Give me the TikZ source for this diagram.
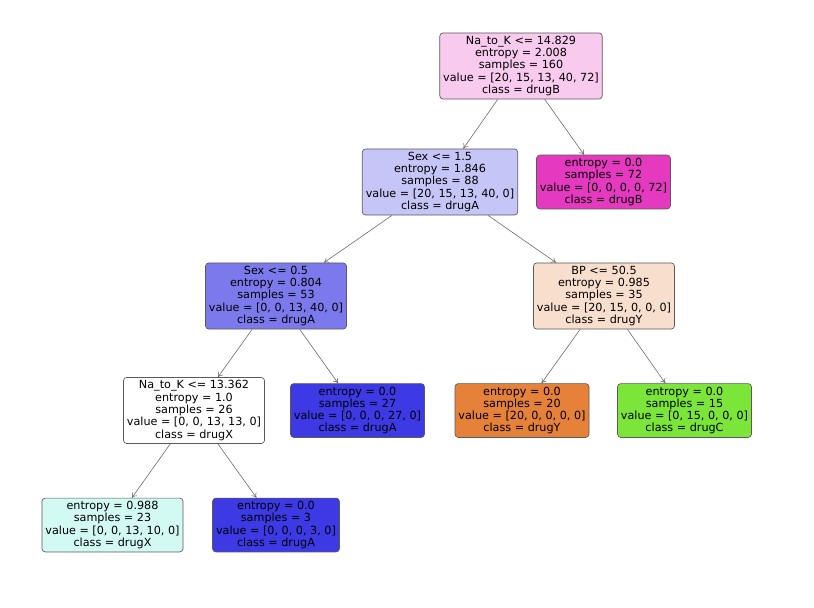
\documentclass[tikz,border=0pt]{standalone}
\usepackage{fontspec}
\setmainfont{DejaVu Sans}
\usetikzlibrary{calc}
\usetikzlibrary{arrows.meta}

\definecolor{rootcol}{HTML}{F8CAEE}
\definecolor{sexcol}{HTML}{C6C5F7}
\definecolor{sexbcol}{HTML}{7C79ED}
\definecolor{bpcol}{HTML}{F8DFCD}
\definecolor{xlcol}{HTML}{D2F9F2}
\definecolor{drugAcol}{HTML}{3C39E5}
\definecolor{drugBcol}{HTML}{E539C0}
\definecolor{drugCcol}{HTML}{7BE539}
\definecolor{drugYcol}{HTML}{E58139}
\definecolor{edgecol}{HTML}{5A5A5A}

\tikzset{
  treebox/.style={draw=edgecol, line width=0.5pt, rounded corners=2.5pt, align=center,
    inner xsep=2.6pt, inner ysep=2.4pt, font=\fontsize{8.4}{9.2}\selectfont},
  split/.style={-{To[length=3.5pt,width=4.5pt]}, draw=edgecol!90, line width=0.45pt}
}

\begin{document}
\begin{tikzpicture}[x=0.75pt,y=-0.75pt]
  \useasboundingbox (0,0) rectangle (814,607);

  \node[treebox, fill=rootcol] (root) at (521,66) {Na\_to\_K <= 14.829\\entropy = 2.008\\samples = 160\\value = [20, 15, 13, 40, 72]\\class = drugB};
  \node[treebox, fill=sexcol] (sex) at ($(root)+(-81,116)$) {Sex <= 1.5\\entropy = 1.846\\samples = 88\\value = [20, 15, 13, 40, 0]\\class = drugA};
  \node[treebox, fill=drugBcol] (leafB) at ($(root)+(82.5,116)$) {entropy = 0.0\\samples = 72\\value = [0, 0, 0, 0, 72]\\class = drugB};
  \node[treebox, fill=sexbcol] (sexb) at ($(sex)+(-164,114)$) {Sex <= 0.5\\entropy = 0.804\\samples = 53\\value = [0, 0, 13, 40, 0]\\class = drugA};
  \node[treebox, fill=bpcol] (bp) at ($(sex)+(164,114)$) {BP <= 50.5\\entropy = 0.985\\samples = 35\\value = [20, 15, 0, 0, 0]\\class = drugY};
  \node[treebox, fill=white] (nak) at ($(sexb)+(-82,114.5)$) {Na\_to\_K <= 13.362\\entropy = 1.0\\samples = 26\\value = [0, 0, 13, 13, 0]\\class = drugX};
  \node[treebox, fill=drugAcol] (leafA) at ($(sexb)+(81.5,114.5)$) {entropy = 0.0\\samples = 27\\value = [0, 0, 0, 27, 0]\\class = drugA};
  \node[treebox, fill=drugYcol] (leafY) at ($(bp)+(-82,114.5)$) {entropy = 0.0\\samples = 20\\value = [20, 0, 0, 0, 0]\\class = drugY};
  \node[treebox, fill=drugCcol] (leafC) at ($(bp)+(80.5,114.5)$) {entropy = 0.0\\samples = 15\\value = [0, 15, 0, 0, 0]\\class = drugC};
  \node[treebox, fill=xlcol] (leafX) at ($(nak)+(-81.5,114.5)$) {entropy = 0.988\\samples = 23\\value = [0, 0, 13, 10, 0]\\class = drugX};
  \node[treebox, fill=drugAcol] (leafAb) at ($(nak)+(82,114.5)$) {entropy = 0.0\\samples = 3\\value = [0, 0, 0, 3, 0]\\class = drugA};

  \draw[split] (root) -- (sex);
  \draw[split] (root) -- (leafB);
  \draw[split] (sex) -- (sexb);
  \draw[split] (sex) -- (bp);
  \draw[split] (sexb) -- (nak);
  \draw[split] (sexb) -- (leafA);
  \draw[split] (bp) -- (leafY);
  \draw[split] (bp) -- (leafC);
  \draw[split] (nak) -- (leafX);
  \draw[split] (nak) -- (leafAb);
\end{tikzpicture}
\end{document}
